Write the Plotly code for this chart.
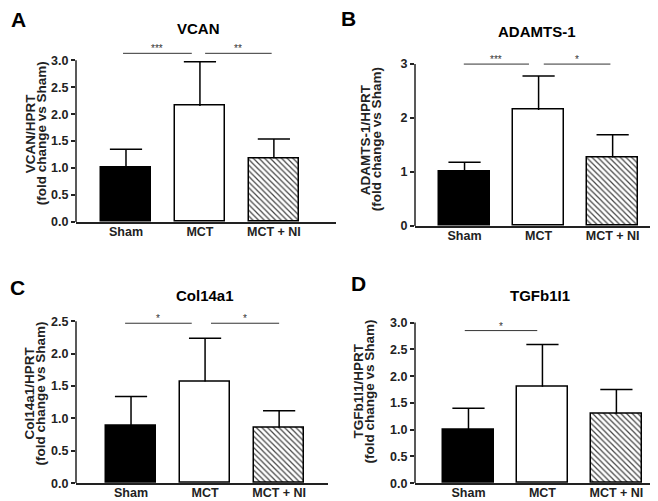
import plotly.graph_objects as go

W, H = 658, 501

groups = ["Sham", "MCT", "MCT + NI"]

# Panel A - VCAN
vcan_mean = [1.00, 2.15, 1.18]
vcan_top = [1.35, 2.97, 1.54]
# Panel B - ADAMTS-1
adamts_mean = [1.00, 2.15, 1.27]
adamts_top = [1.18, 2.78, 1.69]
# Panel C - Col14a1
col_mean = [0.89, 1.57, 0.86]
col_top = [1.34, 2.24, 1.12]
# Panel D - TGFb1I1
tgf_mean = [1.00, 1.80, 1.30]
tgf_top = [1.40, 2.59, 1.75]

ticks_A = [0.0, 0.5, 1.0, 1.5, 2.0, 2.5, 3.0]
ticks_B = [0, 1, 2, 3]
ticks_C = [0.0, 0.5, 1.0, 1.5, 2.0, 2.5]
ticks_D = [0.0, 0.5, 1.0, 1.5, 2.0, 2.5, 3.0]

FONT = "Liberation Sans, Arial, sans-serif"
AX = "#222222"

panels = [
    dict(letter="A", title="VCAN", ylab="VCAN/HPRT", mean=vcan_mean, top=vcan_top,
         ticks=ticks_A, fmt=".1f",
         px=(68, 328), py=(30, 217), xr=[-0.676, 2.84], yr=[0, 3.42],
         tpos=(190, 21), lpos=(10, 12), ytx=(22, 33), yty=127,
         sig=[(-0.04, 0.89, 3.128, "***"), (1.07, 1.97, 3.128, "**")]),
    dict(letter="B", title="ADAMTS-1", ylab="ADAMTS-1/HPRT", mean=adamts_mean, top=adamts_top,
         ticks=ticks_B, fmt="d",
         px=(407, 655), py=(35, 221), xr=[-0.669, 2.68], yr=[0, 3.40],
         tpos=(529, 24), lpos=(341, 11), ytx=(357, 368), yty=133,
         sig=[(-0.01, 0.87, 3.0, "***"), (1.07, 1.97, 3.0, "*")]),
    dict(letter="C", title="Col14a1", ylab="Col14a1/HPRT", mean=col_mean, top=col_top,
         ticks=ticks_C, fmt=".1f",
         px=(68, 320), py=(300, 482), xr=[-0.743, 2.66], yr=[0, 2.77],
         tpos=(197, 292), lpos=(9, 283), ytx=(22, 33), yty=391,
         sig=[(-0.08, 0.82, 2.47, "*"), (1.08, 2.0, 2.47, "*")]),
    dict(letter="D", title="TGFb1I1", ylab="TGFb1I1/HPRT", mean=tgf_mean, top=tgf_top,
         ticks=ticks_D, fmt=".1f",
         px=(407, 655), py=(300, 482), xr=[-0.723, 2.63], yr=[0, 3.35],
         tpos=(532, 292), lpos=(350, 279), ytx=(351, 362), yty=389,
         sig=[(-0.05, 0.93, 2.85, "*")]),
]

fig = go.Figure()
annotations = []
shapes = []
layout_axes = {}
xs = [0, 1, 2]

for i, p in enumerate(panels, start=1):
    xa = "x" if i == 1 else f"x{i}"
    ya = "y" if i == 1 else f"y{i}"
    xkey = "xaxis" if i == 1 else f"xaxis{i}"
    ykey = "yaxis" if i == 1 else f"yaxis{i}"

    # solid bars (Sham black, MCT white)
    fig.add_trace(go.Bar(
        x=xs[:2], y=p["mean"][:2], width=0.68, xaxis=xa, yaxis=ya,
        marker=dict(color=["black", "white"], line=dict(color="black", width=1.5)),
        showlegend=False, hoverinfo="skip",
    ))
    # hatched bar (MCT + NI)
    fig.add_trace(go.Bar(
        x=xs[2:], y=p["mean"][2:], width=0.68, xaxis=xa, yaxis=ya,
        marker=dict(color="white", line=dict(color="black", width=1.5),
                    pattern=dict(shape="\\", fgcolor="#444444", bgcolor="white",
                                 size=4, solidity=0.3, fgopacity=1)),
        showlegend=False, hoverinfo="skip",
    ))
    # upward error bars: stems + caps
    sx, sy = [], []
    for x, m, t in zip(xs, p["mean"], p["top"]):
        sx += [x, x, None]
        sy += [m, t, None]
    fig.add_trace(go.Scatter(
        x=sx, y=sy, mode="lines", xaxis=xa, yaxis=ya,
        line=dict(color="black", width=1.5), showlegend=False, hoverinfo="skip",
    ))
    fig.add_trace(go.Scatter(
        x=xs, y=p["top"], mode="markers", xaxis=xa, yaxis=ya, cliponaxis=False,
        marker=dict(symbol="line-ew", size=23, line=dict(color="black", width=1.5)),
        showlegend=False, hoverinfo="skip",
    ))

    x0, x1 = p["px"]
    ytop, ybot = p["py"]
    layout_axes[xkey] = dict(
        domain=[x0 / W, x1 / W], range=p["xr"], anchor=ya,
        tickvals=xs, ticktext=groups, ticks="", ticklabelstandoff=-3,
        showline=True, linecolor=AX, linewidth=1.5, showgrid=False, zeroline=False,
        tickfont=dict(family=FONT, size=12.5, color=AX, weight="bold"), fixedrange=True,
    )
    layout_axes[ykey] = dict(
        domain=[1 - ybot / H, 1 - ytop / H], range=p["yr"], anchor=xa,
        tickvals=p["ticks"], tickformat=p["fmt"], ticks="outside", ticklen=4,
        tickwidth=1.5, tickcolor=AX, showline=False, showgrid=False, zeroline=False,
        tickfont=dict(family=FONT, size=12.5, color=AX, weight="bold"), fixedrange=True,
    )

    # y-axis line up to the top tick
    shapes.append(dict(type="line", xref=f"{xa} domain", yref=ya, x0=0, x1=0,
                       y0=0, y1=p["ticks"][-1], line=dict(color=AX, width=1.5)))

    # significance bars
    for sx0, sx1, syv, stars in p["sig"]:
        shapes.append(dict(type="line", xref=xa, yref=ya, x0=sx0, x1=sx1, y0=syv, y1=syv,
                           line=dict(color="#333333", width=1)))
        annotations.append(dict(x=(sx0 + sx1) / 2, y=syv, xref=xa, yref=ya, text=stars,
                                showarrow=False, yanchor="bottom", yshift=-3,
                                font=dict(family=FONT, size=10, color="#333333")))

    # titles
    annotations.append(dict(x=p["tpos"][0] / W, y=1 - p["tpos"][1] / H, xref="paper", yref="paper",
                            text=p["title"], showarrow=False, xanchor="center", yanchor="middle",
                            font=dict(family=FONT, size=15, color="black", weight="bold")))
    annotations.append(dict(x=p["lpos"][0] / W, y=1 - p["lpos"][1] / H, xref="paper", yref="paper",
                            text=p["letter"], showarrow=False, xanchor="center", yanchor="middle",
                            font=dict(family=FONT, size=21, color="black", weight="bold")))
    for txt, xpx in zip([p["ylab"], "(fold change vs Sham)"], p["ytx"]):
        annotations.append(dict(x=xpx / W, y=1 - p["yty"] / H, xref="paper", yref="paper",
                                text=txt, textangle=-90, showarrow=False,
                                xanchor="center", yanchor="middle",
                                font=dict(family=FONT, size=13.5, color=AX, weight="bold")))

fig.update_layout(
    width=W, height=H, margin=dict(l=0, r=0, t=0, b=0),
    paper_bgcolor="white", plot_bgcolor="white",
    annotations=annotations, shapes=shapes, bargap=0, barmode="overlay",
    **layout_axes,
)

fig.write_html("out.html", config={"displayModeBar": False})
